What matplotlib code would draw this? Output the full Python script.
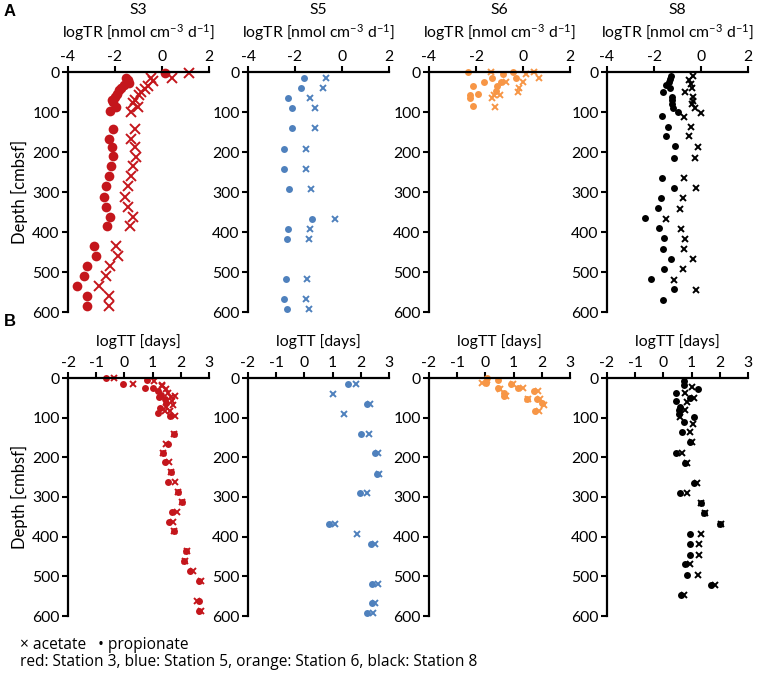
import matplotlib
matplotlib.use("Agg")
import matplotlib.pyplot as plt

plt.rcParams['font.family'] = ['Lato', 'DejaVu Sans']
plt.rcParams['mathtext.default'] = 'regular'

stations = ["S3", "S5", "S6", "S8"]
colors = ["#C4161C", "#4F81BD", "#F79646", "#000000"]

# ---- logTR [nmol cm-3 d-1] (top row) ----
s3_tr_prop_depth = [2, 14, 21, 27, 33, 39, 46, 54, 62, 69, 75, 87, 97, 142, 167, 187, 211, 236, 261,
                    286, 312, 337, 362, 386, 436, 461, 486, 509, 535, 561, 584]
s3_tr_prop = [0.14, -1.52, -1.45, -1.40, -1.63, -1.73, -1.83, -1.91, -2.01, -2.11, -2.08, -1.94, -2.23,
              -2.08, -2.27, -2.11, -2.08, -2.16, -2.27, -2.37, -2.48, -2.37, -2.20, -2.34, -2.89, -2.79,
              -3.19, -3.33, -3.60, -3.19, -3.19]
s3_tr_ac_depth = [2, 14, 14, 23, 36, 42, 50, 58, 69, 77, 87, 100, 142, 167, 187, 212, 236, 261, 286,
                  312, 337, 362, 386, 436, 461, 486, 509, 535, 561, 584]
s3_tr_ac = [1.13, 0.43, -0.45, -0.38, -0.60, -0.74, -0.88, -0.98, -1.16, -1.23, -1.02, -1.30, -1.16,
            -1.33, -1.16, -1.12, -1.23, -1.30, -1.45, -1.59, -1.45, -1.23, -1.38, -1.97, -1.87, -2.23,
            -2.37, -2.68, -2.26, -2.26]

s5_tr_depth = [15, 40, 66, 91, 141, 192, 242, 292, 367, 392, 418, 517, 567, 592]
s5_tr_prop = [-1.63, -1.73, -2.30, -2.11, -2.11, -2.48, -2.48, -2.27, -1.26, -2.30, -2.34, -2.40, -2.48, -2.33]
s5_tr_ac = [-0.70, -0.81, -1.38, -1.16, -1.16, -1.55, -1.55, -1.33, -0.31, -1.35, -1.42, -1.48, -1.55, -1.40]

s6_tr_prop_depth = [0, 0, 5, 15, 15, 25, 25, 36, 36, 47, 56, 58, 64, 86]
s6_tr_prop = [-2.32, -0.43, -0.83, -1.32, -0.28, -1.65, -0.94, -2.14, -1.11, -1.14, -1.93, -2.27, -2.26, -2.14]
s6_tr_ac_depth = [0, 0, 5, 15, 25, 25, 41, 49, 58, 58, 66, 87]
s6_tr_ac = [-1.35, 0.46, 0.13, 0.70, 0.00, -0.71, -0.18, -0.21, -1.25, -0.97, -1.32, -1.18]

s8_tr_prop_depth = [10, 17, 26, 32, 40, 51, 62, 71, 79, 90, 100, 111, 137, 161, 186, 214, 265, 289, 315,
                    339, 366, 391, 416, 442, 468, 493, 517, 543, 570]
s8_tr_prop = [-1.26, -1.30, -1.37, -1.51, -1.30, -1.62, -1.23, -1.23, -1.23, -1.20, -0.98, -1.68, -1.40,
              -1.48, -1.09, -1.16, -1.65, -1.16, -1.72, -1.82, -2.38, -1.79, -1.58, -1.62, -1.26, -1.58,
              -2.11, -1.16, -1.62]
s8_tr_ac_depth = [10, 21, 30, 40, 51, 62, 73, 81, 90, 103, 113, 137, 161, 188, 214, 265, 291, 316, 342,
                  368, 393, 417, 443, 468, 493, 519, 544]
s8_tr_ac = [-0.35, -0.53, -0.42, -0.39, -0.70, -0.35, -0.36, -0.39, -0.25, -0.01, -0.74, -0.43, -0.50,
            -0.11, -0.25, -0.74, -0.22, -0.77, -0.91, -1.47, -0.85, -0.67, -0.71, -0.35, -0.77, -1.16, -0.22]

# ---- logTT [days] (bottom row) ----
s3_tt_prop_depth = [0, 14, 6, 24, 25, 34, 42, 48, 53, 63, 76, 87, 95, 141, 166, 188, 211, 236, 261, 287,
                    312, 337, 362, 386, 436, 462, 487, 512, 562, 587]
s3_tt_prop = [-0.64, -0.05, 0.81, 0.73, 1.01, 1.19, 1.29, 1.22, 1.43, 1.49, 1.25, 1.19, 1.61, 1.77, 1.55,
              1.37, 1.43, 1.65, 1.55, 1.89, 2.04, 1.70, 1.58, 1.77, 2.18, 2.10, 2.34, 2.66, 2.64, 2.64]
s3_tt_ac_depth = [0, 14, 7, 17, 21, 28, 38, 46, 48, 59, 67, 72, 82, 84, 97, 141, 166, 188, 211, 236, 261,
                  287, 312, 337, 362, 386, 436, 462, 487, 512, 562, 587]
s3_tt_ac = [-0.37, 0.29, 1.05, 1.34, 1.34, 1.46, 1.55, 1.80, 1.65, 1.70, 1.73, 1.49, 1.61, 1.43, 1.80,
            1.77, 1.46, 1.37, 1.57, 1.67, 1.80, 1.89, 2.04, 1.86, 1.73, 1.77, 2.22, 2.14, 2.42, 2.70, 2.58, 2.73]

s5_tt_prop_depth = [14, 65, 141, 190, 241, 291, 367, 418, 519, 568, 593]
s5_tt_prop = [1.54, 2.21, 2.02, 2.51, 2.57, 1.96, 0.87, 2.37, 2.41, 2.39, 2.21]
s5_tt_ac_depth = [14, 40, 65, 90, 141, 190, 241, 291, 367, 393, 418, 519, 568, 593]
s5_tt_ac = [1.84, 1.02, 2.33, 1.39, 2.30, 2.60, 2.66, 2.21, 1.07, 1.88, 2.51, 2.60, 2.49, 2.45]

s6_tt_prop_depth = [0, 13, 4, 26, 38, 45, 15, 24, 54, 34, 54, 64, 84]
s6_tt_prop = [0.04, 0.01, 0.43, 0.46, 0.65, 0.67, 0.91, 1.17, 1.48, 1.74, 1.84, 1.99, 1.77]
s6_tt_ac_depth = [13, 4, 28, 45, 15, 24, 54, 34, 54, 68, 84]
s6_tt_ac = [-0.11, 0.06, 0.50, 0.74, 0.99, 1.35, 1.50, 1.87, 1.93, 2.09, 1.89]

s8_tt_prop_depth = [7, 18, 28, 39, 50, 59, 72, 80, 91, 99, 110, 136, 162, 188, 214, 265, 291, 316, 341,
                    367, 393, 419, 445, 470, 496, 522, 547]
s8_tt_prop = [0.72, 0.74, 1.21, 0.45, 0.94, 0.45, 0.60, 0.54, 0.57, 1.09, 0.74, 0.66, 0.96, 0.44, 0.76,
              1.09, 0.60, 1.35, 1.45, 2.02, 0.94, 0.94, 0.94, 0.78, 0.84, 1.70, 0.62]
s8_tt_ac_depth = [22, 39, 50, 61, 80, 99, 115, 136, 162, 188, 214, 265, 291, 316, 341, 367, 393, 419,
                  445, 470, 496, 522, 547]
s8_tt_ac = [1.01, 0.78, 1.09, 0.84, 0.78, 0.60, 1.06, 0.94, 1.02, 0.66, 0.84, 1.18, 0.84, 1.35, 1.49,
            2.06, 1.35, 1.27, 1.27, 0.94, 1.24, 1.84, 0.72]

top_data = [
    (s3_tr_prop_depth, s3_tr_prop, s3_tr_ac_depth, s3_tr_ac),
    (s5_tr_depth, s5_tr_prop, s5_tr_depth, s5_tr_ac),
    (s6_tr_prop_depth, s6_tr_prop, s6_tr_ac_depth, s6_tr_ac),
    (s8_tr_prop_depth, s8_tr_prop, s8_tr_ac_depth, s8_tr_ac),
]
bottom_data = [
    (s3_tt_prop_depth, s3_tt_prop, s3_tt_ac_depth, s3_tt_ac),
    (s5_tt_prop_depth, s5_tt_prop, s5_tt_ac_depth, s5_tt_ac),
    (s6_tt_prop_depth, s6_tt_prop, s6_tt_ac_depth, s6_tt_ac),
    (s8_tt_prop_depth, s8_tt_prop, s8_tt_ac_depth, s8_tt_ac),
]

W, H = 767, 677
fig = plt.figure(figsize=(W / 100, H / 100), dpi=100)

col_left = [68, 248, 429, 607]
col_w = 141
rows = [(72, 312, (-4, 2), [-4, -2, 0, 2], r'logTR [nmol cm$^{-3}$ d$^{-1}$]', top_data, 33),
        (378, 616, (-2, 3), [-2, -1, 0, 1, 2, 3], 'logTT [days]', bottom_data, 342)]

fs = 11.3
for r, (ytop, ybot, xlim, xticks, xlab, data, ylab_y) in enumerate(rows):
    for i in range(4):
        ax = fig.add_axes([col_left[i] / W, 1 - ybot / H, col_w / W, (ybot - ytop) / H])
        pd_, pv, ad, av = data[i]
        ms = 7 if (r == 0 and i == 0) else 5
        ax.plot(pv, pd_, 'o', color=colors[i], ms=ms, mec='none', clip_on=False)
        ax.plot(av, ad, 'x', color=colors[i], ms=ms - 0.5, mew=1.4, clip_on=False)
        ax.set_xlim(*xlim)
        ax.set_ylim(600, 0)
        ax.set_xticks(xticks)
        ax.set_yticks(range(0, 601, 100))
        ax.xaxis.tick_top()
        for s in ['right', 'bottom']:
            ax.spines[s].set_visible(False)
        for s in ['left', 'top']:
            ax.spines[s].set_linewidth(1.6)
        ax.tick_params(direction='out', length=4, width=1.5, labelsize=fs, pad=2)
        ax.set_xticklabels([str(t) for t in xticks])
        cx = (col_left[i] + col_w / 2) / W
        fig.text(cx, 1 - ylab_y / H, xlab, ha='center', va='center', fontsize=fs)
        if r == 0:
            fig.text(cx, 1 - 10 / H, stations[i], ha='center', va='center', fontsize=fs)
        if i == 0:
            ax.set_ylabel('Depth [cmbsf]', fontsize=12, labelpad=3)

fig.text(10 / W, 1 - 12 / H, 'A', fontsize=12, fontweight='bold', family='Liberation Sans',
         ha='center', va='center')
fig.text(10 / W, 1 - 322 / H, 'B', fontsize=12, fontweight='bold', family='Liberation Sans',
         ha='center', va='center')

fig.text(20 / W, 1 - 645 / H, '× acetate   • propionate', fontsize=11.2, family='Open Sans',
         ha='left', va='center')
fig.text(20 / W, 1 - 662 / H, 'red: Station 3, blue: Station 5, orange: Station 6, black: Station 8',
         fontsize=11.2, family='Open Sans', ha='left', va='center')

fig.savefig('out.png', dpi=100)
